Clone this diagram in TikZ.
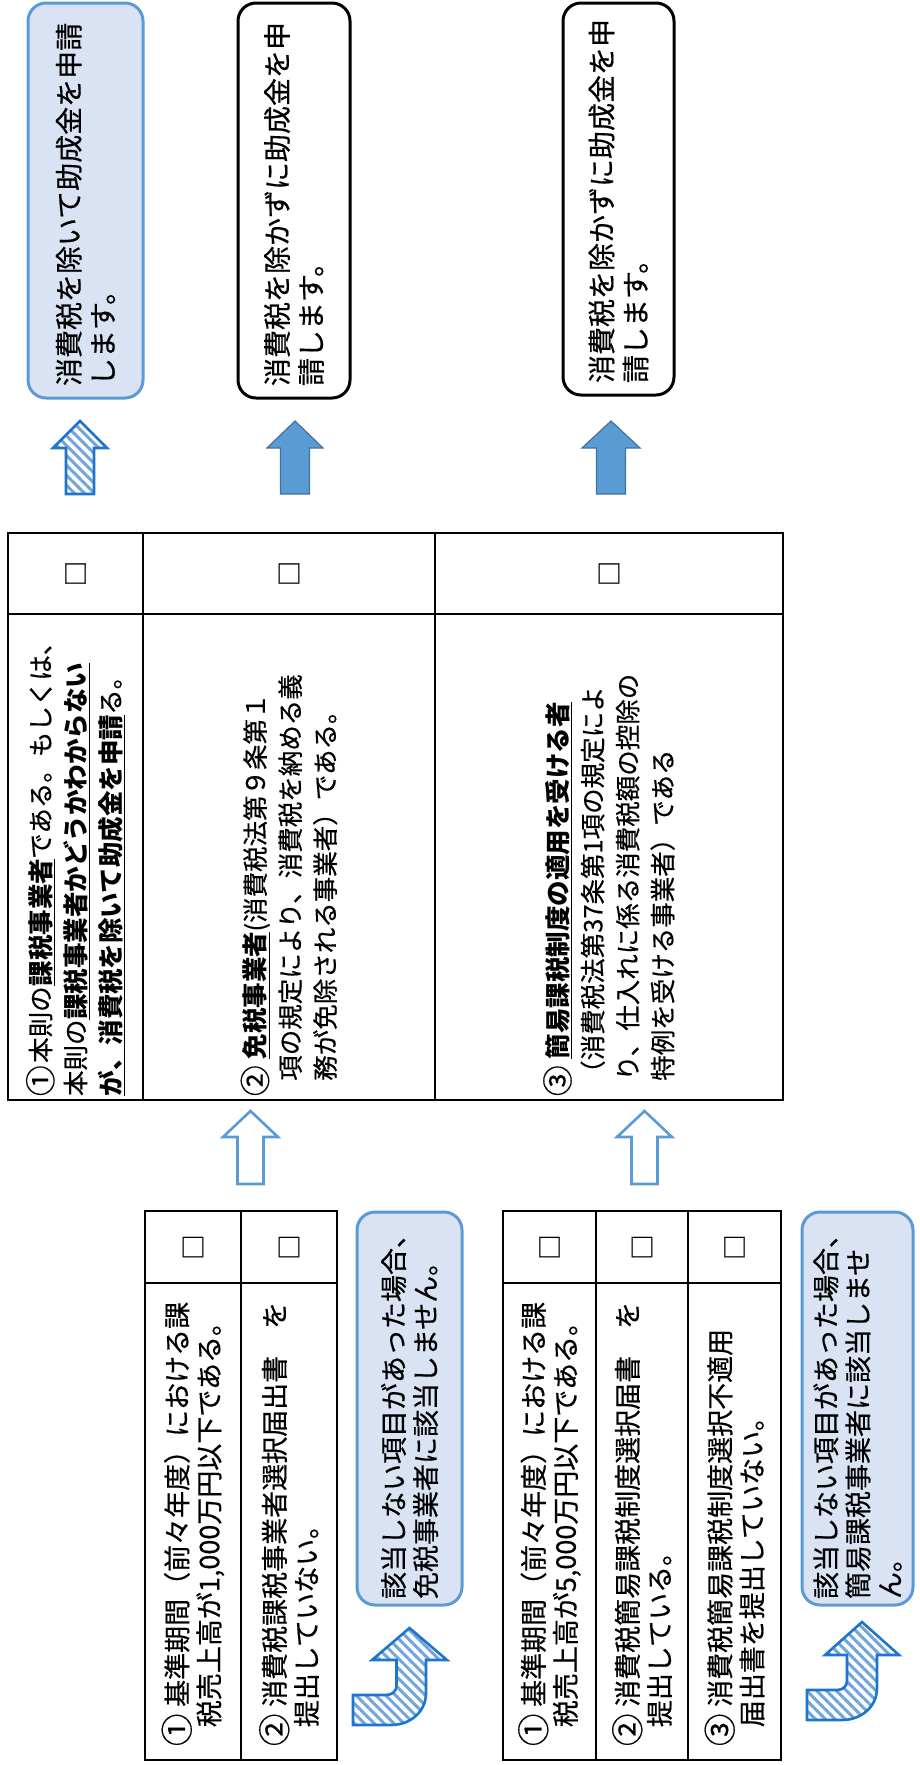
\documentclass[tikz,border=0pt]{standalone}
\usepackage{fontspec}
\setmainfont{Noto Sans CJK JP}[UprightFeatures={FakeBold=0.5}]
\usetikzlibrary{patterns.meta}
\definecolor{boxfill}{HTML}{DAE3F3}
\definecolor{boxline}{HTML}{5B9BD5}
\definecolor{arrfill}{HTML}{5B9BD5}
\definecolor{arrline}{HTML}{41719C}
\definecolor{patline}{HTML}{1F74CC}
\definecolor{stripe}{HTML}{6FA5DC}
\newcommand{\ulb}[1]{\underline{\textbf{#1}}}
\newcommand{\cnum}[1]{\raisebox{-0.07em}{\scalebox{1.2}{#1}}}
\newcommand{\tabfont}{\fontsize{25.5}{35}\selectfont}
\newcommand{\smallfont}{\fontsize{27}{32}\selectfont}
\newcommand{\resfont}{\fontsize{28}{34}\selectfont}
\begin{document}
\begin{tikzpicture}[x=1pt,y=-1pt,
  cell/.style={rotate=90, draw=black, line width=2pt, align=left, inner ysep=0pt},
  chk/.style={rotate=90, draw=black, line width=2pt, inner sep=0pt, font=\tabfont},
  resbox/.style={rotate=90, draw=black, line width=3pt, rounded corners=18pt, align=left, inner ysep=0pt, font=\resfont},
  bluebox/.style={resbox, draw=boxline, fill=boxfill},
  solidarrow/.style={fill=arrfill, draw=arrline, line width=1.2pt, line join=miter},
  hollowarrow/.style={fill=white, draw=boxline, line width=2.6pt, line join=miter},
  patarrow/.style={preaction={fill=white}, pattern={Lines[angle=-45,distance=7pt,line width=3pt]}, pattern color=stripe, draw=patline, line width=2.6pt, line join=miter}
]
\useasboundingbox (0,0) rectangle (920,1765);

% ---------- result boxes ----------
\node[bluebox, minimum width=395, minimum height=115, text width=371, inner xsep=12] (r1) at (85.5,200.5)
  {消費税を除いて助成金を申請\\します。};
\node[resbox, minimum width=395, minimum height=112, text width=371, inner xsep=12] (r2) at (294,200.5)
  {消費税を除かずに助成金を申\\請します。};
\node[resbox, minimum width=392, minimum height=111, text width=368, inner xsep=12] (r3) at (618.5,199)
  {消費税を除かずに助成金を申\\請します。};

% ---------- up arrows to result boxes ----------
\path[patarrow] (66,494) -- (66,448) -- (53,448) -- (80,421) -- (107,448) -- (94,448) -- (94,494) -- cycle;
\path[solidarrow] (280.5,494) -- (280.5,448) -- (267,448) -- (295,421) -- (323,448) -- (309.5,448) -- (309.5,494) -- cycle;
\path[solidarrow] (596.5,494) -- (596.5,448) -- (582,448) -- (611,421) -- (640,448) -- (625.5,448) -- (625.5,494) -- cycle;

% ---------- main table ----------
\node[chk, minimum width=81, minimum height=135] (m1c) at (75.5,573.5) {□};
\node[chk, minimum width=81, minimum height=292] (m2c) at (289,573.5) {□};
\node[chk, minimum width=81, minimum height=348] (m3c) at (609,573.5) {□};
\node[cell, font=\tabfont, minimum width=486, minimum height=135, text width=478, inner xsep=4] (m1) at (75.5,857)
  {\cnum{①}\hspace{0.1em}本則の\ulb{課税事業者}である。もしくは、\\
   本則の\ulb{課税事業者かどうかわからない}\\
   \ulb{が、消費税を除いて助成金を申請}る。};
\node[cell, font=\tabfont, minimum width=486, minimum height=292, text width=478, inner xsep=4] (m2) at (289,857)
  {\cnum{②}\hspace{0.25em}\ulb{免税事業者}(消費税法第９条第１\\
   \hspace*{0.6em}項の規定により、消費税を納める義\\
   \hspace*{0.6em}務が免除される事業者）である。};
\node[cell, font=\tabfont, minimum width=486, minimum height=348, text width=478, inner xsep=4] (m3) at (609,857)
  {\cnum{③}\hspace{0.25em}\ulb{簡易課税制度の適用を受ける者}\\
   \hspace*{0.4em}（消費税法第37条第1項の規定によ\\
   \hspace*{0.6em}り、仕入れに係る消費税額の控除の\\
   \hspace*{0.6em}特例を受ける事業者）である};
\draw[line width=2.8pt] (8,533) rectangle (783,1100);

% ---------- hollow arrows ----------
\path[hollowarrow] (237.5,1184) -- (237.5,1137) -- (223,1137) -- (250.5,1111) -- (278,1137) -- (263.5,1137) -- (263.5,1184) -- cycle;
\path[hollowarrow] (631.5,1184) -- (631.5,1137) -- (617,1137) -- (644.5,1111) -- (672,1137) -- (657.5,1137) -- (657.5,1184) -- cycle;

% ---------- table A ----------
\node[chk, minimum width=72, minimum height=96] (a1c) at (193,1247) {□};
\node[chk, minimum width=72, minimum height=96] (a2c) at (289,1247) {□};
\node[cell, font=\smallfont, minimum width=477, minimum height=96, text width=449, inner xsep=14] (a1) at (193,1521.5)
  {\cnum{①}\hspace{0.25em}基準期間（前々年度）における課\\
   \hspace*{0.7em}税売上高が1,000万円以下である。};
\node[cell, font=\smallfont, minimum width=477, minimum height=96, text width=449, inner xsep=14] (a2) at (289,1521.5)
  {\cnum{②}\hspace{0.25em}消費税課税事業者選択届出書　を\\
   \hspace*{0.7em}提出していない。};
\draw[line width=2.6pt] (145,1211) rectangle (337,1760);

\node[bluebox, font=\smallfont, minimum width=393, minimum height=105, text width=381, inner xsep=6] (ba) at (409.5,1408.5)
  {該当しない項目があった場合、\\免税事業者に該当しません。};

\path[patarrow] (396.5,1660) -- (372,1660) -- (409.5,1628) -- (447,1660) -- (426,1660) -- (426,1693)
  .. controls (426,1712) and (410,1725) .. (391,1725) -- (353,1725) -- (353,1695) -- (386,1695)
  .. controls (392,1695) and (396.5,1691) .. (396.5,1686) -- cycle;

% ---------- table B ----------
\node[chk, minimum width=72, minimum height=93] (b1c) at (549.5,1247) {□};
\node[chk, minimum width=72, minimum height=92] (b2c) at (642,1247) {□};
\node[chk, minimum width=72, minimum height=93] (b3c) at (734.5,1247) {□};
\node[cell, font=\smallfont, minimum width=477, minimum height=93, text width=449, inner xsep=14] (b1) at (549.5,1521.5)
  {\cnum{①}\hspace{0.25em}基準期間（前々年度）における課\\
   \hspace*{0.7em}税売上高が5,000万円以下である。};
\node[cell, font=\smallfont, minimum width=477, minimum height=92, text width=449, inner xsep=14] (b2) at (642,1521.5)
  {\cnum{②}\hspace{0.25em}消費税簡易課税制度選択届書　を\\
   \hspace*{0.7em}提出している。};
\node[cell, font=\smallfont, minimum width=477, minimum height=93, text width=449, inner xsep=14] (b3) at (734.5,1521.5)
  {\cnum{③}\hspace{0.25em}消費税簡易課税制度選択不適用\\
   \hspace*{0.7em}届出書を提出していない。};
\draw[line width=2.6pt] (503,1211) rectangle (781,1760);

\node[bluebox, font=\smallfont, minimum width=393, minimum height=111, text width=381, inner xsep=6] (bb) at (857.5,1408.5)
  {該当しない項目があった場合、\\簡易課税事業者に該当しませ\\ん。};

\path[patarrow] (847,1655) -- (825,1655) -- (862,1622) -- (899,1655) -- (877,1655) -- (877,1688)
  .. controls (877,1707) and (861,1720) .. (842,1720) -- (807,1720) -- (807,1690) -- (837,1690)
  .. controls (843,1690) and (847,1686) .. (847,1681) -- cycle;
\end{tikzpicture}
\end{document}
